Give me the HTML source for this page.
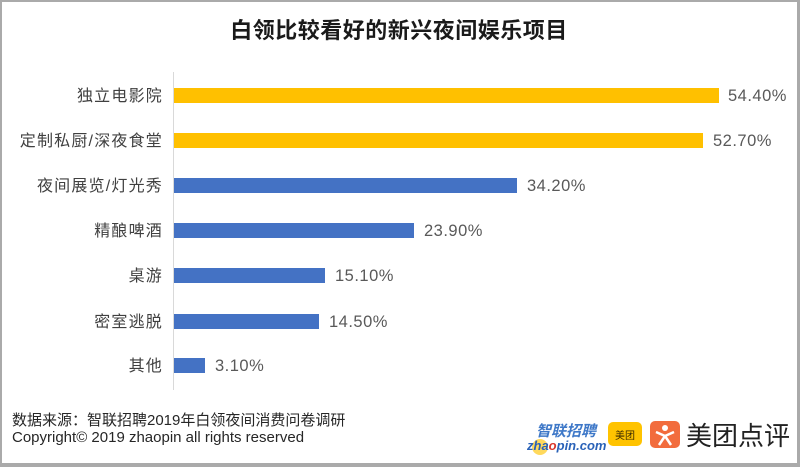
<!DOCTYPE html>
<html>
<head>
<meta charset="utf-8">
<style>
html,body{margin:0;padding:0;background:#fff;}
body{width:800px;height:467px;overflow:hidden;}
svg{display:block;}
text{font-family:"Liberation Sans","Noto Sans CJK SC",sans-serif;}
.cat{font-size:16px;fill:#404040;letter-spacing:1.2px;}
.val{font-size:16.5px;fill:#595959;letter-spacing:0.5px;}
</style>
</head>
<body>
<svg width="800" height="467" viewBox="0 0 800 467" xmlns="http://www.w3.org/2000/svg">
  <rect x="0" y="0" width="800" height="467" fill="#ffffff"/>
  <!-- frame -->
  <rect x="0" y="0" width="800" height="2" fill="#aaaaaa"/>
  <rect x="0" y="0" width="2" height="467" fill="#aaaaaa"/>
  <rect x="797" y="0" width="3" height="467" fill="#aaaaaa"/>
  <rect x="0" y="463" width="800" height="4" fill="#aaaaaa"/>

  <!-- title -->
  <text x="399" y="38" text-anchor="middle" font-size="22" font-weight="bold" fill="#1a1a1a" style="letter-spacing:0.5px">白领比较看好的新兴夜间娱乐项目</text>

  <!-- axis -->
  <line x1="173.5" y1="72" x2="173.5" y2="390" stroke="#d9d9d9" stroke-width="1"/>

  <!-- bars -->
  <rect x="174" y="88" width="545" height="15" fill="#FFC000"/>
  <rect x="174" y="133" width="529" height="15" fill="#FFC000"/>
  <rect x="174" y="178" width="343" height="15" fill="#4472C4"/>
  <rect x="174" y="223" width="240" height="15" fill="#4472C4"/>
  <rect x="174" y="268" width="151" height="15" fill="#4472C4"/>
  <rect x="174" y="314" width="145" height="15" fill="#4472C4"/>
  <rect x="174" y="358" width="31" height="15" fill="#4472C4"/>

  <!-- category labels -->
  <text class="cat" x="163" y="101" text-anchor="end">独立电影院</text>
  <text class="cat" x="163" y="146" text-anchor="end">定制私厨/深夜食堂</text>
  <text class="cat" x="163" y="191" text-anchor="end">夜间展览/灯光秀</text>
  <text class="cat" x="163" y="236" text-anchor="end">精酿啤酒</text>
  <text class="cat" x="163" y="281" text-anchor="end">桌游</text>
  <text class="cat" x="163" y="327" text-anchor="end">密室逃脱</text>
  <text class="cat" x="163" y="371" text-anchor="end">其他</text>

  <!-- value labels -->
  <text class="val" x="728" y="101">54.40%</text>
  <text class="val" x="713" y="146">52.70%</text>
  <text class="val" x="527" y="191">34.20%</text>
  <text class="val" x="424" y="236">23.90%</text>
  <text class="val" x="335" y="281">15.10%</text>
  <text class="val" x="329" y="327">14.50%</text>
  <text class="val" x="215" y="371">3.10%</text>

  <!-- footer -->
  <text x="12" y="425" font-size="15" fill="#262626">数据来源：智联招聘2019年白领夜间消费问卷调研</text>
  <text x="12" y="442" font-size="15" fill="#262626">Copyright© 2019 zhaopin all rights reserved</text>

  <!-- zhaopin logo -->
  <circle cx="540" cy="447" r="8" fill="#FFD23F" opacity="0.85"/>
  <text x="536" y="436" font-size="15" font-weight="bold" font-style="italic" fill="#3e78c8">智联招聘</text>
  <text x="527" y="450" font-size="13" font-weight="bold" font-style="italic" fill="#2a62b8">zha<tspan fill="#d9362b">o</tspan>pin.com</text>

  <!-- meituan yellow -->
  <rect x="608" y="422" width="34" height="24" rx="5" fill="#FFC300"/>
  <text x="625" y="439" font-size="10" text-anchor="middle" fill="#3a2a00">美团</text>

  <!-- dianping orange -->
  <rect x="650" y="421" width="30" height="27" rx="5" fill="#F26C3D"/>
  <circle cx="665" cy="428" r="3" fill="#fff"/>
  <path d="M656 432 L665 436 L674 432" stroke="#fff" stroke-width="2.5" fill="none"/>
  <path d="M665 436 L659 445 M665 436 L671 445" stroke="#fff" stroke-width="2.5" fill="none"/>

  <text x="686" y="445" font-size="26" fill="#222">美团点评</text>
</svg>
</body>
</html>
